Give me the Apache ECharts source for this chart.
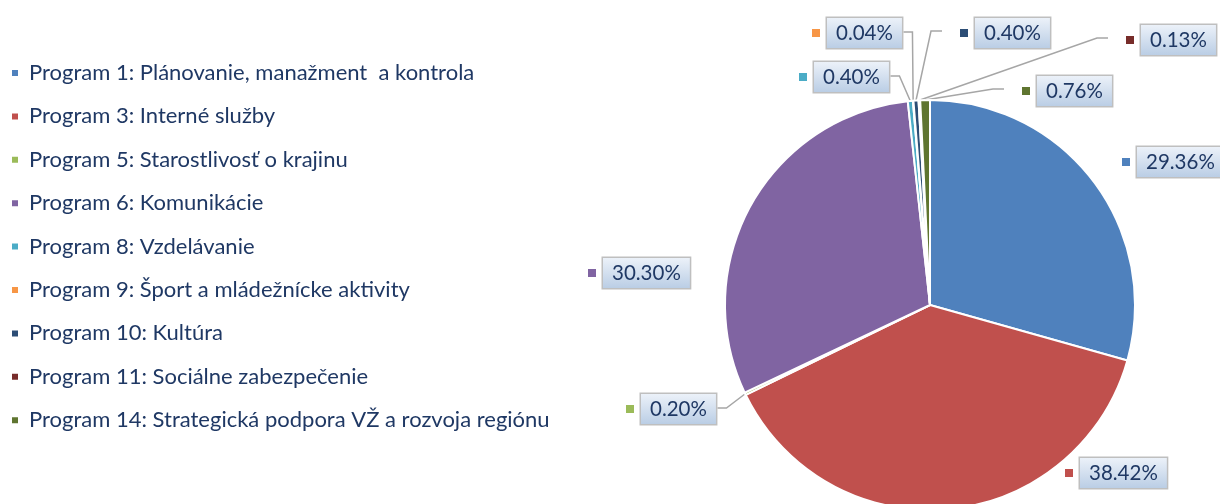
<!DOCTYPE html>
<html>
<head>
<meta charset="utf-8">
<script src="https://cdn.jsdelivr.net/npm/echarts@6/dist/echarts.min.js"></script>
<style>
  html, body { margin: 0; padding: 0; background: #fff; }
  #chart { width: 1220px; height: 504px; }
</style>
</head>
<body>
<div id="chart"></div>
<script>
const categories = [
  "Program 1: Plánovanie, manažment  a kontrola",
  "Program 3: Interné služby",
  "Program 5: Starostlivosť o krajinu",
  "Program 6: Komunikácie",
  "Program 8: Vzdelávanie",
  "Program 9: Šport a mládežnícke aktivity",
  "Program 10: Kultúra",
  "Program 11: Sociálne zabezpečenie",
  "Program 14: Strategická podpora VŽ a rozvoja regiónu"
];
const shares = [29.36, 38.42, 0.20, 30.30, 0.40, 0.04, 0.40, 0.13, 0.76];

const colors = ["#4F81BD", "#C0504D", "#9BBB59", "#8064A2", "#4BACC6",
                "#F79646", "#2C4D75", "#772C2A", "#5F7530"];

// where each data label sits (left edge of marker, vertical centre) and
// on which side the leader line joins it; null = no leader line
const labelPlace = [
  [1122, 162, null],
  [1065, 473, null],
  [626, 409, "left"],
  [588, 273, null],
  [799, 77, "left"],
  [812, 33, "left"],
  [960, 33, "right"],
  [1126, 40, "right"],
  [1022, 91, "right"]
];

const font = "Lato, 'Noto Sans', sans-serif";
const textColor = "#1F3864";

let rich = {
  g: { width: 7 },
  b: {
    fontSize: 20.5,
    fontFamily: font,
    color: textColor,
    lineHeight: 25,
    padding: [5, 9, 4, 9],
    borderColor: "#BFBFBF",
    borderWidth: 1.5,
    verticalAlign: "middle",
    backgroundColor: new echarts.graphic.LinearGradient(0, 0, 0, 1, [
      { offset: 0, color: "#EEF3FA" },
      { offset: 1, color: "#B8CCE4" }
    ])
  }
};
colors.forEach((c, i) => {
  rich["m" + i] = { width: 8, height: 8, backgroundColor: c, verticalAlign: "middle" };
});

let chart = echarts.init(document.getElementById("chart"));
chart.setOption({
  animation: false,
  color: colors,
  legend: {
    orient: "vertical",
    left: 5,
    top: 56,
    icon: "rect",
    itemWidth: 8,
    itemHeight: 8,
    itemGap: 19.4,
    selectedMode: false,
    textStyle: {
      fontFamily: font,
      fontSize: 22,
      lineHeight: 24,
      color: textColor,
      padding: [0, 0, 0, 5]
    },
    data: categories
  },
  series: [
    {
      type: "pie",
      center: [930, 305],
      radius: 205,
      startAngle: 90,
      clockwise: true,
      avoidLabelOverlap: false,
      itemStyle: { borderColor: "#fff", borderWidth: 2 },
      emphasis: { disabled: true },
      label: {
        show: true,
        position: "outside",
        formatter: (p) => "{m" + p.dataIndex + "|}{g|}{b|" + p.value.toFixed(2) + "%}",
        rich: rich
      },
      labelLine: {
        show: true,
        lineStyle: { color: "#A6A6A6", width: 1.5 }
      },
      labelLayout: (params) => {
        const pl = labelPlace[params.dataIndex];
        const out = { x: pl[0], y: pl[1], align: "left", verticalAlign: "middle" };
        const pts = params.labelLinePoints;
        if (pl[2] && pts) {
          const start = pts[0];
          const w = params.labelRect.width;
          let end, elbow;
          if (pl[2] === "left") {
            end = [pl[0] + w, pl[1] - 1];
            elbow = [end[0] + 9, end[1]];
          } else {
            end = [pl[0] - 18, pl[1] - 2];
            elbow = [end[0] - 11, end[1]];
          }
          out.labelLinePoints = [start, elbow, end];
        }
        return out;
      },
      data: categories.map((name, i) => ({
        name: name,
        value: shares[i],
        labelLine: { show: labelPlace[i][2] !== null }
      }))
    }
  ]
});
</script>
</body>
</html>
